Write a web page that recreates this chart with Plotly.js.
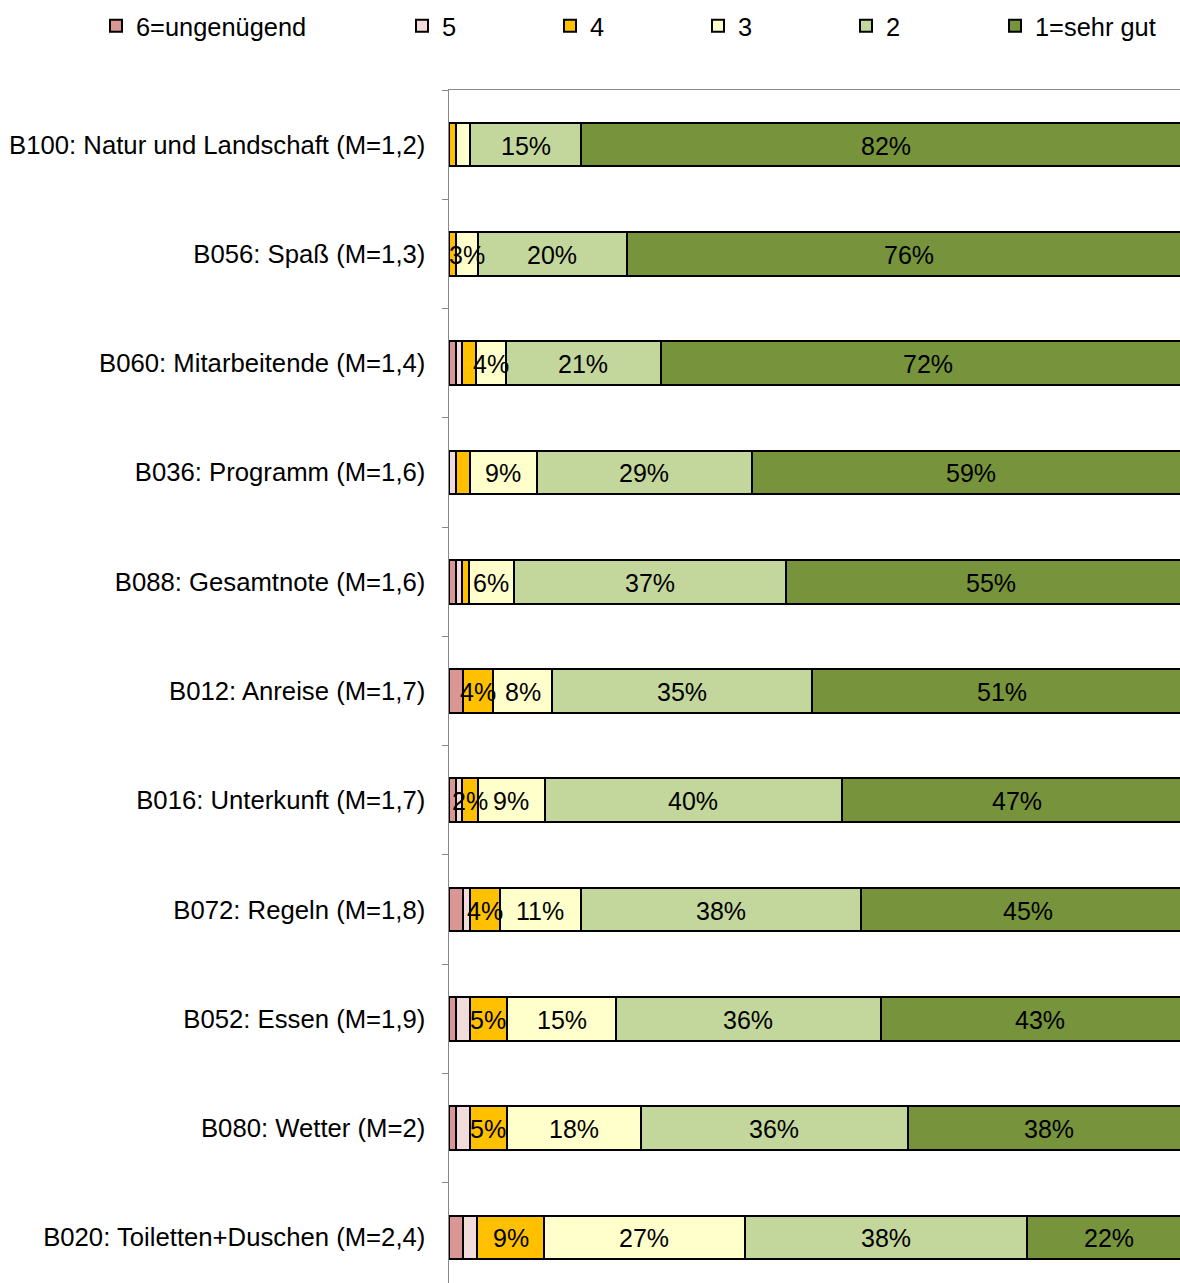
<!DOCTYPE html>
<html>
<head>
<meta charset="utf-8">
<script src="https://cdn.plot.ly/plotly-3.0.1.min.js"></script>
<style>
html, body { margin: 0; padding: 0; overflow: hidden; background: #fff; }
#chart { width: 1192px; height: 1292px; }
</style>
</head>
<body>
<div id="chart"></div>
<script>
const categories = [
  "B100: Natur und Landschaft (M=1,2)",
  "B056: Spaß (M=1,3)",
  "B060: Mitarbeitende (M=1,4)",
  "B036: Programm (M=1,6)",
  "B088: Gesamtnote (M=1,6)",
  "B012: Anreise (M=1,7)",
  "B016: Unterkunft (M=1,7)",
  "B072: Regeln (M=1,8)",
  "B052: Essen (M=1,9)",
  "B080: Wetter (M=2)",
  "B020: Toiletten+Duschen (M=2,4)"
];
const seriesNames = ["6=ungenügend", "5", "4", "3", "2", "1=sehr gut"];
const v6 = [0, 0, 0.9, 0, 0.9, 1.9, 0.9, 1.9, 0.9, 0.9, 1.9];
const v5 = [0, 0, 0.9, 0.9, 0.9, 0, 0.9, 0.9, 1.9, 1.9, 1.9];
const v4 = [0.9, 0.9, 1.9, 1.9, 0.9, 4, 2.1, 4, 5, 5, 9];
const v3 = [1.9, 3, 4, 9, 6, 8, 9, 11, 14.7, 18, 27];
const v2 = [15, 20, 20.8, 29, 36.7, 35, 40, 37.6, 35.6, 36, 38];
const v1 = [82, 76, 72, 59, 55, 51, 47, 45, 43, 38, 22];
const seriesValues = [v6, v5, v4, v3, v2, v1];
const colors = ["#D99694", "#F2DCDB", "#FFC000", "#FFFFCC", "#C3D69B", "#77933C"];
const legendOf = ["legend", "legend2", "legend2", "legend2", "legend2", "legend3"];

const FONT = "Liberation Sans, Arial, sans-serif";
const FS = 25;

const traces = seriesValues.map((vals, i) => ({
  type: "bar",
  orientation: "h",
  name: seriesNames[i],
  legend: legendOf[i],
  y: categories,
  x: vals,
  textposition: "none",
  marker: { color: colors[i], line: { color: "#000", width: 2 } },
  hoverinfo: "skip"
}));

// data labels drawn on top of all bars, at the middle of each segment
const annotations = [];
categories.forEach((c, k) => {
  let cum = 0;
  seriesValues.forEach(vals => {
    const v = vals[k];
    if (v >= 2) {
      annotations.push({
        x: cum + v / 2,
        y: c,
        xref: "x",
        yref: "y",
        text: Math.round(v) + "%",
        showarrow: false,
        xanchor: "center",
        yanchor: "middle",
        yshift: -1,
        font: { family: FONT, size: FS, color: "#000" }
      });
    }
    cum += v;
  });
});

const legendBase = {
  orientation: "h",
  xanchor: "left",
  y: 1.053, yanchor: "middle",
  font: { family: FONT, size: 25.4, color: "#000" },
  bgcolor: "rgba(0,0,0,0)"
};

const layout = {
  width: 1192,
  height: 1292,
  margin: { l: 449, r: 0, t: 90, b: 0, pad: 0 },
  paper_bgcolor: "#fff",
  plot_bgcolor: "#fff",
  barmode: "stack",
  bargap: 0.6,
  showlegend: true,
  font: { family: FONT, size: FS, color: "#000" },
  annotations: annotations,
  legend: Object.assign({}, legendBase, { x: (96 - 449) / 743 }),
  legend2: Object.assign({}, legendBase, {
    x: (402 - 449) / 743,
    traceorder: "normal",
    entrywidth: 103,
    entrywidthmode: "pixels"
  }),
  legend3: Object.assign({}, legendBase, { x: (995 - 449) / 743 }),
  xaxis: {
    range: [0, 100],
    showgrid: false,
    zeroline: false,
    showticklabels: false,
    ticks: "",
    showline: true,
    mirror: true,
    linecolor: "#888",
    linewidth: 1.5,
    fixedrange: true
  },
  yaxis: {
    type: "category",
    range: [categories.length - 0.5, -0.5],
    autorange: false,
    showgrid: false,
    zeroline: false,
    showline: true,
    linecolor: "#888",
    linewidth: 1.5,
    ticks: "outside",
    tickson: "boundaries",
    ticklen: 6,
    tickcolor: "#888",
    tickwidth: 1,
    ticklabelstandoff: 17,
    tickfont: { family: FONT, size: 25.7, color: "#000" },
    fixedrange: true
  }
};

Plotly.newPlot("chart", traces, layout, { displayModeBar: false, staticPlot: true });
</script>
</body>
</html>
